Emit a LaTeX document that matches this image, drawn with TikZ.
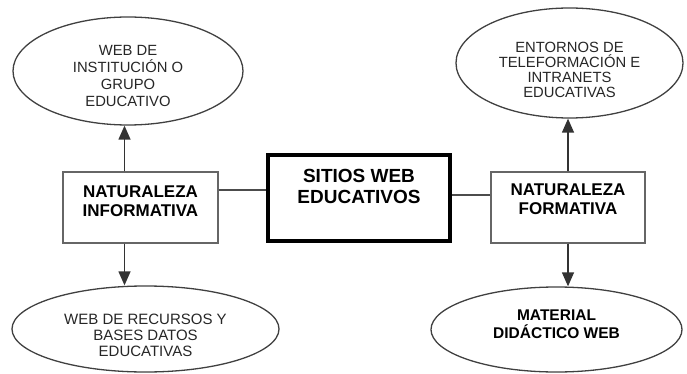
\documentclass[tikz,border=0pt]{standalone}
\usepackage{fontspec}
\setmainfont{Liberation Sans}
\usetikzlibrary{shapes.geometric,arrows.meta}

\begin{document}
\begin{tikzpicture}[x=1pt,y=-1pt,>={Triangle[length=14pt,width=12pt]},
  elipse/.style={draw=black!75,line width=1.3pt,ellipse,inner sep=0pt},
  caja/.style={draw=black!60,line width=1.2pt,rectangle,inner sep=0pt,minimum width=155,minimum height=71},
  linea/.style={draw=black!70,line width=1.3pt},
  flecha/.style={draw=black!80,line width=1.3pt,->,fill=black},
  texto/.style={align=center,text=black!85},
  negrita/.style={align=center,font=\bfseries}]
\useasboundingbox (0,0) rectangle (687,374);
\node[draw=black,line width=4pt,minimum width=182,minimum height=86] (0) at (359,198) {};
\node[caja] (1) at (140.5,207.5) {};
\node[caja,minimum width=154] (2) at (568,207.5) {};
\node[elipse,minimum width=230,minimum height=108] (3) at (128,71) {};
\node[elipse,minimum width=267,minimum height=86] (4) at (145.5,329) {};
\node[elipse,minimum width=227,minimum height=110] (5) at (569.5,63) {};
\node[elipse,minimum width=251,minimum height=85] (6) at (556.5,329.5) {};
\node[negrita,font=\bfseries\fontsize{19}{21}\selectfont] (t0) at ([yshift=11.5]0.center) {SITIOS WEB\\EDUCATIVOS};
\node[negrita,font=\bfseries\fontsize{17}{19.5}\selectfont] (t1) at ([yshift=6.5]1.center) {NATURALEZA\\INFORMATIVA};
\node[negrita,font=\bfseries\fontsize{17}{19.5}\selectfont] (t2) at ([yshift=8.5]2.center) {NATURALEZA\\FORMATIVA};
\node[texto,font=\fontsize{14.8}{17}\selectfont] (t3) at ([yshift=-4.5]3.center) {WEB DE\\INSTITUCIÓN O\\GRUPO\\EDUCATIVO};
\node[texto,font=\fontsize{15}{16}\selectfont] (t4) at ([yshift=-6]4.center) {WEB DE RECURSOS Y\\BASES DATOS\\EDUCATIVAS};
\node[texto,font=\fontsize{14.8}{15}\selectfont] (t5) at ([yshift=-6.5]5.center) {ENTORNOS DE\\TELEFORMACIÓN E\\INTRANETS\\EDUCATIVAS};
\node[negrita,font=\bfseries\fontsize{15.5}{18.5}\selectfont] (t6) at ([yshift=5.5]6.center) {MATERIAL\\DIDÁCTICO WEB};
\draw [linea]([yshift=17.5]1.east)--([yshift=17.5]1.east -| 0.west);
\draw [linea]([yshift=12.5]2.west)--([yshift=12.5]2.west -| 0.east);
\draw [flecha]([xshift=-3.5]3.south |- 1.north)--([xshift=-3.5]3.south);
\draw [flecha]([xshift=-3.5]3.south |- 1.south)--([xshift=-3.5]3.south |- 4.north);
\draw [flecha](2.north)--(2.north |- 5.south);
\draw [flecha](2.south)--(2.south |- 6.north);
\end{tikzpicture}
\end{document}
